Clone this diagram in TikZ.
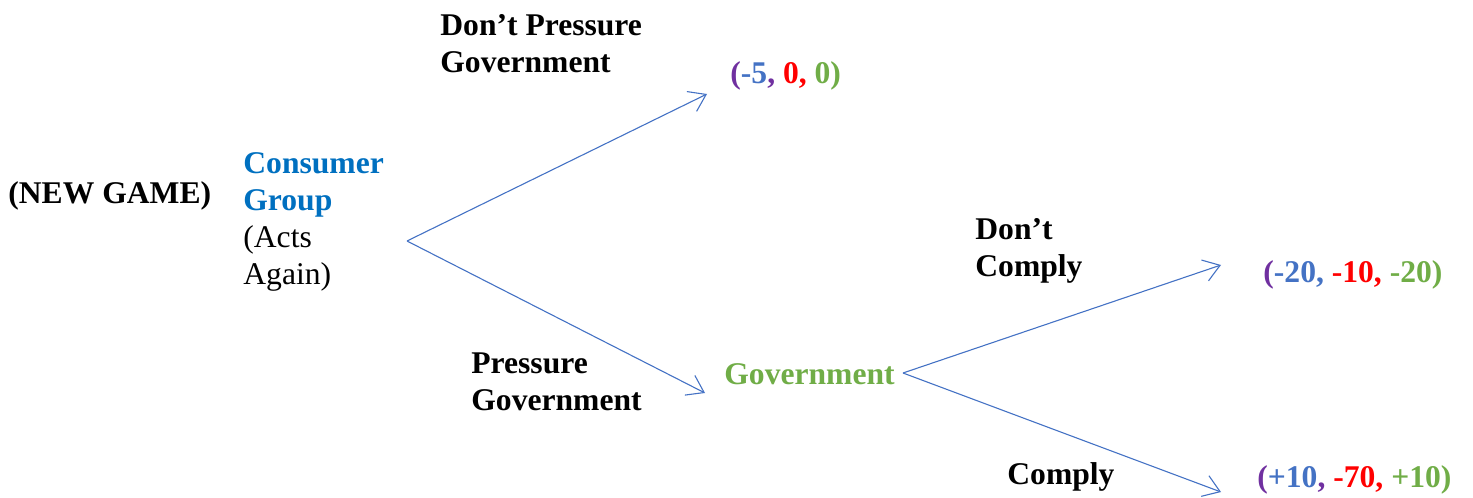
\documentclass[tikz,border=0pt]{standalone}
\usepackage{fontspec}
\setmainfont{Liberation Serif}
\usetikzlibrary{arrows.meta}
\definecolor{cgblue}{HTML}{0070C0}
\definecolor{numblue}{HTML}{4472C4}
\definecolor{ppurple}{HTML}{7030A0}
\definecolor{gred}{HTML}{FF0000}
\definecolor{ggreen}{HTML}{70AD47}
\definecolor{edgeblue}{HTML}{4472C4}
\tikzset{
  lbl/.style={anchor=west, inner sep=0pt, align=left, font=\fontsize{15.8}{18.6}\selectfont\bfseries},
  plain/.style={anchor=west, inner sep=0pt, align=left, font=\fontsize{15.8}{18.6}\selectfont},
  branch/.style={draw=edgeblue, line width=0.55pt, -{Straight Barb[length=8pt,width=11pt,line width=0.55pt]}}
}
\begin{document}
\begin{tikzpicture}[x=0.5pt,y=-0.5pt]
\useasboundingbox (0,0) rectangle (1473,498);
% text
\node[lbl] (new) at (8,196) {(NEW GAME)};
\node[plain] (cg) at (243,222) {\textcolor{cgblue}{\bfseries Consumer}\\\textcolor{cgblue}{\bfseries Group}\\(Acts\\Again)};
\node[lbl] (dpg) at (440,44) {Don’t Pressure\\Government};
\node[lbl] (pg) at (471,382) {Pressure\\Government};
\node[lbl, text=ggreen] (gov) at (724,374) {Government};
\node[lbl] (dc) at (975,251) {Don’t\\Comply};
\node[lbl] (c) at (1007,477) {Comply};
\node[lbl] (p1) at (730,76) {\textcolor{ppurple}{(}\textcolor{numblue}{-5}\textcolor{ppurple}{,} \textcolor{gred}{0,} \textcolor{ggreen}{0)}};
\node[lbl] (p2) at (1263,275) {\textcolor{ppurple}{(}\textcolor{numblue}{-20,} \textcolor{gred}{-10,} \textcolor{ggreen}{-20)}};
\node[lbl] (p3) at (1257,480) {\textcolor{ppurple}{(}\textcolor{numblue}{+10}\textcolor{ppurple}{,} \textcolor{gred}{-70,} \textcolor{ggreen}{+10)}};
% branch points and arrow ends
\coordinate (r) at (407,241);
\coordinate (e1) at (707,94);
\coordinate (e2) at (705,393);
\coordinate (g) at (903,373);
\coordinate (e3) at (1221,265);
\coordinate (e4) at (1221,492);
\draw[branch] (r) -- (e1);
\draw[branch] (r) -- (e2);
\draw[branch] (g) -- (e3);
\draw[branch] (g) -- (e4);
\end{tikzpicture}
\end{document}
